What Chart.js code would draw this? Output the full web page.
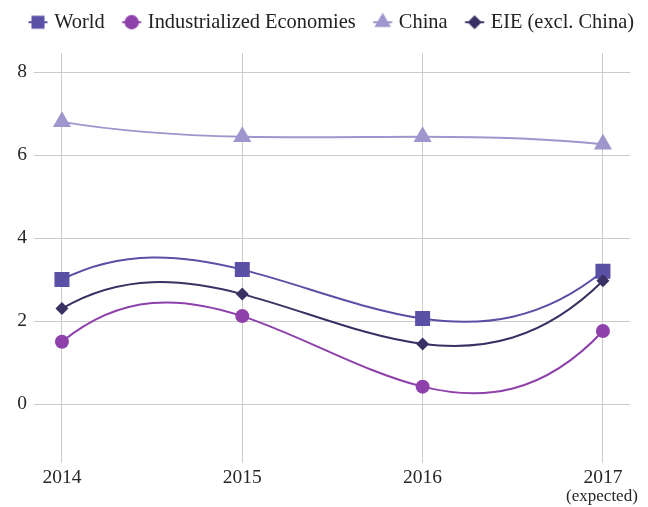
<!DOCTYPE html>
<html>
<head>
<meta charset="utf-8">
<script src="https://cdn.jsdelivr.net/npm/chart.js@4.4.1/dist/chart.umd.min.js"></script>
<style>
    html, body { margin: 0; padding: 0; background: #fff; }
    #wrap { width: 648px; height: 507px; }
</style>
</head>
<body>
<div id="wrap"><canvas id="growthChart"></canvas></div>
<script>
// ===================================
// Data
// ===================================

const years = [2014, 2015, 2016, 2017];
const world = [3.0, 3.24, 2.06, 3.2];
const industrialized = [1.5, 2.12, 0.42, 1.76];
const china = [6.8, 6.44, 6.44, 6.26];
const eie = [2.3, 2.65, 1.45, 2.97];
const yTicks = [0, 2, 4, 6, 8];
const expectedYear = 2017;

const FONT = '"Liberation Serif", "Times New Roman", serif';
const TEXT_COLOR = '#262626';
const GRID_COLOR = '#cacaca';

// ===================================
// Legend icons: short line with the marker on it
// ===================================

function legendIcon(color, style, radius) {
    const c = document.createElement('canvas');
    c.width = 44;
    c.height = 20;
    const ctx = c.getContext('2d');
    const cx = 31, cy = 10;
    ctx.strokeStyle = color;
    ctx.lineWidth = 2;
    ctx.beginPath();
    ctx.moveTo(cx - 9.5, cy);
    ctx.lineTo(cx + 9.5, cy);
    ctx.stroke();
    ctx.fillStyle = color;
    Chart.helpers.drawPoint(ctx, { pointStyle: style, radius: radius, rotation: 0, borderWidth: 0 }, cx, cy);
    return c;
}

// ===================================
// Curve through the points: cubic (not-a-knot) interpolation
// with 4 points this is the single cubic through all of them
// ===================================

const cubicCurve = {
    id: 'cubicCurve',
    beforeDatasetDraw(chart, args) {
        const pts = args.meta.data;
        const n = pts.length;
        if (n < 3) return;

        const slope = pts.map((pj, j) => {
            let s = 0;
            pts.forEach((pi, i) => {
                if (i === j) {
                    pts.forEach((pk, k) => { if (k !== j) s += pj.y / (pj.x - pk.x); });
                } else {
                    let w = 1 / (pi.x - pj.x);
                    pts.forEach((pk, k) => { if (k !== i && k !== j) w *= (pj.x - pk.x) / (pi.x - pk.x); });
                    s += pi.y * w;
                }
            });
            return s;
        });

        for (let i = 0; i < n; i++) {
            const p = pts[i];
            const hPrev = i > 0 ? (p.x - pts[i - 1].x) / 3 : 0;
            const hNext = i < n - 1 ? (pts[i + 1].x - p.x) / 3 : 0;
            p.cp1x = p.x - hPrev;
            p.cp1y = p.y - slope[i] * hPrev;
            p.cp2x = p.x + hNext;
            p.cp2y = p.y + slope[i] * hNext;
        }
        args.meta.dataset._pointsUpdated = true;
    }
};

// extra room under the legend
const legendSpace = {
    id: 'legendSpace',
    beforeInit(chart) {
        const originalFit = chart.legend.fit;
        chart.legend.fit = function fit() {
            originalFit.bind(chart.legend)();
            this.height += 11;
        };
    }
};

// "(expected)" under the last year
const expectedLabel = {
    id: 'expectedLabel',
    afterDraw(chart) {
        const xs = chart.scales.x;
        const ctx = chart.ctx;
        ctx.save();
        ctx.font = '17px ' + FONT;
        ctx.fillStyle = TEXT_COLOR;
        ctx.textAlign = 'center';
        ctx.textBaseline = 'middle';
        ctx.fillText('(expected)', xs.getPixelForValue(expectedYear) - 1, xs.top + 34);
        ctx.restore();
    }
};

// ===================================
// Chart
// ===================================

function series(label, values, color, style, radius, order) {
    return {
        label: label,
        data: years.map((yr, i) => ({ x: yr, y: values[i] })),
        borderColor: color,
        backgroundColor: color,
        pointBackgroundColor: color,
        pointStyle: style,
        pointRadius: radius,
        pointHoverRadius: radius,
        pointBorderWidth: 0,
        borderWidth: 2,
        tension: 0.4,
        fill: false,
        order: order
    };
}

const datasets = [
    series('World', world, '#5a50a6', 'rect', 10.6, 4),
    series('Industrialized Economies', industrialized, '#8e41ab', 'circle', 7, 3),
    series('China', china, '#a095cc', 'triangle', 10.5, 2),
    series('EIE (excl. China)', eie, '#3a3063', 'rectRot', 6.5, 1)
];

const icons = [
    legendIcon('#5a50a6', 'rect', 9.2),
    legendIcon('#8e41ab', 'circle', 7.2),
    legendIcon('#a095cc', 'triangle', 9.5),
    legendIcon('#3a3063', 'rectRot', 7)
];

const ctx = document.getElementById('growthChart').getContext('2d');
const growthChart = new Chart(ctx, {
    type: 'line',
    data: { datasets: datasets },
    plugins: [cubicCurve, legendSpace, expectedLabel],
    options: {
        responsive: true,
        maintainAspectRatio: false,
        animation: false,
        layout: { padding: { top: 9, left: 0, right: 0, bottom: 0 } },
        plugins: {
            tooltip: { enabled: false },
            legend: {
                display: true,
                position: 'top',
                labels: {
                    usePointStyle: true,
                    pointStyleWidth: 30,
                    boxHeight: 20,
                    padding: 3,
                    color: '#222',
                    font: { family: FONT, size: 20.4 },
                    sort: (a, b) => a.datasetIndex - b.datasetIndex,
                    generateLabels: function(chart) {
                        const items = Chart.defaults.plugins.legend.labels.generateLabels(chart);
                        items.forEach(item => { item.pointStyle = icons[item.datasetIndex]; });
                        return items;
                    }
                }
            }
        },
        scales: {
            x: {
                type: 'linear',
                min: 2013.845,
                max: 2017.15,
                afterBuildTicks: function(scale) {
                    scale.ticks = years.map(v => ({ value: v }));
                },
                afterFit: function(scale) {
                    scale.height = 44;
                    scale.paddingLeft = 0;
                    scale.paddingRight = 18;
                },
                ticks: {
                    padding: 3,
                    color: TEXT_COLOR,
                    font: { family: FONT, size: 19.5 },
                    callback: function(value) { return String(value); }
                },
                grid: { color: GRID_COLOR, lineWidth: 1, drawTicks: false },
                border: { display: false }
            },
            y: {
                min: -1.42,
                max: 8.45,
                afterBuildTicks: function(scale) {
                    scale.ticks = yTicks.map(v => ({ value: v }));
                },
                afterFit: function(scale) {
                    scale.width = 34;
                },
                ticks: {
                    padding: 7,
                    color: TEXT_COLOR,
                    font: { family: FONT, size: 19.5 }
                },
                grid: { color: GRID_COLOR, lineWidth: 1, drawTicks: false },
                border: { display: false }
            }
        }
    }
});
</script>
</body>
</html>
